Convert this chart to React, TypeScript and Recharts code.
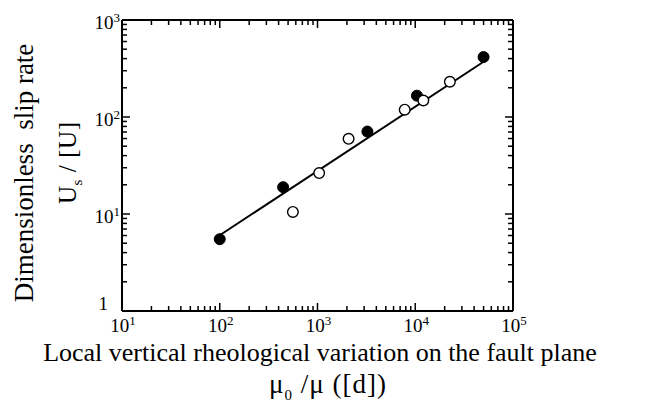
import React from 'react';
import { ScatterChart, Scatter, XAxis, YAxis, ReferenceLine } from 'recharts';

// ---- data ----
const filledPoints = [
  { x: 100, y: 5.5 },
  { x: 445, y: 18.9 },
  { x: 3240, y: 70.8 },
  { x: 10400, y: 166 },
  { x: 50000, y: 415 },
];
const openPoints = [
  { x: 560, y: 10.5 },
  { x: 1040, y: 26.4 },
  { x: 2080, y: 59.6 },
  { x: 7800, y: 119 },
  { x: 12100, y: 148 },
  { x: 22600, y: 231 },
];
const fitLine = [
  { x: 100, y: 6.04 },
  { x: 50000, y: 371 },
];

const xMajorTicks = [10, 100, 1000, 10000, 100000];
const xTickExponents = ['1', '2', '3', '4', '5'];
const yMajorTicks = [1, 10, 100, 1000];
const yTickExponents = ['', '1', '2', '3'];
const minorMultipliers = [2, 3, 4, 5, 6, 7, 8, 9];

const withMinor = (majors: number[]) => {
  const out: number[] = [];
  majors.forEach((m, i) => {
    out.push(m);
    if (i < majors.length - 1) minorMultipliers.forEach((k) => out.push(m * k));
  });
  return out;
};
const xTicks = withMinor(xMajorTicks);
const yTicks = withMinor(yMajorTicks);

const FONT = '"Liberation Serif", "Times New Roman", serif';
const CHART_W = 657;
const CHART_H = 403;
const MARGIN = { top: 20, right: 144, bottom: 0, left: 0 };
const X_AXIS_H = 92;
const Y_AXIS_W = 122;
const PLOT_W = CHART_W - MARGIN.left - MARGIN.right - Y_AXIS_W;
const PLOT_H = CHART_H - MARGIN.top - MARGIN.bottom - X_AXIS_H;

const MAJOR = 8;
const MINOR = 5;
const TICK_W = 1.5;
const TICK_FS = 19;
const SUP_FS = 13;

const majorIndex = (arr: number[], v: number) =>
  arr.findIndex((m) => Math.abs(m - v) / m < 1e-9);

// bottom axis tick: draws the bottom tick, the mirrored top tick and the label
const BottomTick = (p: any) => {
  const { x, y, payload } = p;
  const idx = majorIndex(xMajorTicks, payload.value);
  const major = idx >= 0;
  const len = major ? MAJOR : MINOR;
  const top = y - PLOT_H;
  return (
    <g>
      <line x1={x} x2={x} y1={y} y2={y - len} stroke="#000" strokeWidth={TICK_W} />
      <line x1={x} x2={x} y1={top} y2={top + len} stroke="#000" strokeWidth={TICK_W} />
      {major && (
        <text x={x + 1} y={y + 21} textAnchor="middle" fontSize={TICK_FS} fontFamily={FONT} fill="#000">
          10
          <tspan dy={-7} fontSize={SUP_FS}>{xTickExponents[idx]}</tspan>
        </text>
      )}
    </g>
  );
};

// left axis tick: draws the left tick, the mirrored right tick and the label
const LeftTick = (p: any) => {
  const { x, y, payload } = p;
  const idx = majorIndex(yMajorTicks, payload.value);
  const major = idx >= 0;
  const exp = major ? yTickExponents[idx] : '';
  const len = major ? MAJOR : MINOR;
  const right = x + PLOT_W;
  return (
    <g>
      <line x1={x} x2={x + len} y1={y} y2={y} stroke="#000" strokeWidth={TICK_W} />
      <line x1={right} x2={right - len} y1={y} y2={y} stroke="#000" strokeWidth={TICK_W} />
      {major && exp === '' && (
        <text x={x - 14} y={y - 1} textAnchor="end" fontSize={TICK_FS} fontFamily={FONT} fill="#000">
          1
        </text>
      )}
      {major && exp !== '' && (
        <text x={x - 2} y={y + 9} textAnchor="end" fontSize={TICK_FS} fontFamily={FONT} fill="#000">
          10
          <tspan dy={-7} fontSize={SUP_FS}>{exp}</tspan>
        </text>
      )}
    </g>
  );
};

const XTitle = () => (
  <g>
    <text x={320} y={361} textAnchor="middle" fontSize={26} fontFamily={FONT} fill="#000">
      Local vertical rheological variation on the fault plane
    </text>
    <text x={328} y={393} textAnchor="middle" fontSize={27} fontFamily={FONT} fill="#000" letterSpacing={1}>
      μ<tspan fontSize={15} dy={7}>0</tspan>
      <tspan dy={-7}> /μ ([d])</tspan>
    </text>
  </g>
);

const YTitle = () => (
  <g>
    <text
      transform="rotate(-90)"
      x={-173}
      y={33}
      textAnchor="middle"
      fontSize={27}
      fontFamily={FONT}
      fill="#000"
      style={{ whiteSpace: 'pre' }}
    >
      {'Dimensionless  slip rate'}
    </text>
    <text
      transform="rotate(-90)"
      x={-204}
      y={76}
      textAnchor="start"
      fontSize={25}
      fontFamily={FONT}
      fill="#000"
      textLength={82}
      lengthAdjust="spacing"
      style={{ whiteSpace: 'pre' }}
    >
      <tspan>U</tspan>
      <tspan fontSize={15} dy={6}>s</tspan>
      <tspan dy={-6}>{' / [U]'}</tspan>
    </text>
  </g>
);

const FilledDot = (p: any) => <circle cx={p.cx} cy={p.cy} r={5.5} fill="#000" stroke="#000" strokeWidth={1} />;
const OpenDot = (p: any) => <circle cx={p.cx} cy={p.cy} r={5.3} fill="#fff" stroke="#000" strokeWidth={1.4} />;
const NoDot = () => <g />;

export default function App() {
  return (
    <div style={{ position: 'absolute', left: 0, top: 0 }}>
      <ScatterChart width={CHART_W} height={CHART_H} margin={MARGIN}>
        <XAxis
          xAxisId="b"
          dataKey="x"
          type="number"
          scale="log"
          domain={[10, 100000]}
          allowDataOverflow
          ticks={xTicks}
          interval={0}
          height={X_AXIS_H}
          tickSize={0}
          tickMargin={0}
          tickLine={false}
          axisLine={{ stroke: '#000', strokeWidth: 2 }}
          tick={<BottomTick />}
          label={<XTitle />}
        />
        <YAxis
          yAxisId="l"
          dataKey="y"
          type="number"
          scale="log"
          domain={[1, 1000]}
          allowDataOverflow
          ticks={yTicks}
          interval={0}
          width={Y_AXIS_W}
          tickSize={0}
          tickMargin={0}
          tickLine={false}
          axisLine={{ stroke: '#000', strokeWidth: 2 }}
          tick={<LeftTick />}
          label={<YTitle />}
        />
        <ReferenceLine xAxisId="b" yAxisId="l" x={100000} stroke="#000" strokeWidth={2} />
        <ReferenceLine xAxisId="b" yAxisId="l" y={1000} stroke="#000" strokeWidth={2} />
        <Scatter
          xAxisId="b"
          yAxisId="l"
          data={fitLine}
          line={{ stroke: '#000', strokeWidth: 2 }}
          shape={<NoDot />}
          isAnimationActive={false}
        />
        <Scatter xAxisId="b" yAxisId="l" data={filledPoints} shape={<FilledDot />} isAnimationActive={false} />
        <Scatter xAxisId="b" yAxisId="l" data={openPoints} shape={<OpenDot />} isAnimationActive={false} />
      </ScatterChart>
    </div>
  );
}
